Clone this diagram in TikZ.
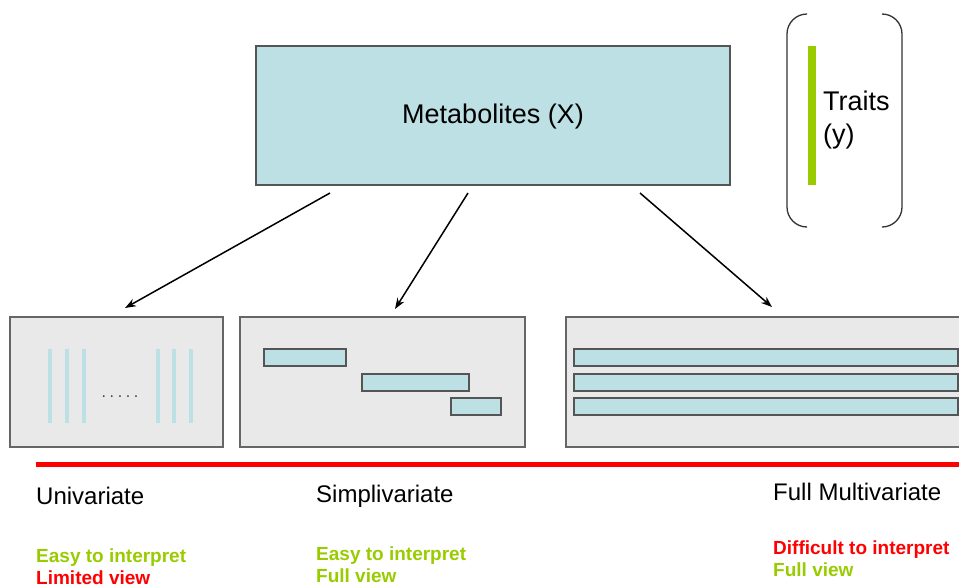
\documentclass[tikz,border=0pt]{standalone}
\usepackage{fontspec}
\setmainfont{Liberation Sans}
\usetikzlibrary{arrows.meta}
\definecolor{cy}{HTML}{BCE0E3}
\definecolor{bd}{HTML}{555555}
\definecolor{gbox}{HTML}{E9E9E9}
\definecolor{gr}{HTML}{99CC00}
\definecolor{rd}{HTML}{FF0000}
\tikzset{
  cybox/.style={draw=bd, fill=cy, line width=1.3pt},
  panel/.style={draw=bd!90, fill=gbox, line width=1.3pt},
  arr/.style={draw=black, line width=1.5pt, -{Stealth[length=11pt,width=8pt]}},
  vline/.style={draw=cy, line width=4pt},
  lbl/.style={inner sep=0pt, anchor=base west, font=\fontsize{24}{28}\selectfont},
  good/.style={inner sep=0pt, anchor=base west, text=gr, font=\fontsize{19}{22}\selectfont\bfseries},
  bad/.style={inner sep=0pt, anchor=base west, text=rd, font=\fontsize{19}{22}\selectfont\bfseries},
  paren/.style={draw=black!80, line width=1.3pt, rounded corners=20pt}
}
\begin{document}
\begin{tikzpicture}[x=1pt,y=-1pt]
\useasboundingbox (0,0) rectangle (959,584);
% top box
\draw[cybox] (256,46) rectangle (730,185);
\node[inner sep=0pt, font=\fontsize{27}{32}\selectfont] (met) at (493,117) {Metabolites (X)};
% traits bracket
\draw[paren] (806,14) -- (787,14) -- (787,227) -- (806,227);
\draw[paren] (882,14) -- (902,14) -- (902,227) -- (882,227);
\draw[draw=gr, line width=8pt] (812,46) -- (812,185);
\node[inner sep=0pt, anchor=base west, font=\fontsize{27}{33}\selectfont] (traits) at (823,110) {Traits};
\node[inner sep=0pt, anchor=base west, font=\fontsize{27}{33}\selectfont] (ty) at (823,143) {(y)};
% panels
\draw[panel] (10,317) rectangle (223,447);
\draw[panel] (240,317) rectangle (525,447);
\draw[panel] (566,317) rectangle (975,447);
\node[inner sep=0pt, minimum width=213pt, minimum height=130pt] (p1) at (116.5,382) {};
\node[inner sep=0pt, minimum width=285pt, minimum height=130pt] (p2) at (382.5,382) {};
\node[inner sep=0pt, minimum width=409pt, minimum height=130pt] (p3) at (770.5,382) {};
% univariate lines
\foreach \x in {50,67,83.5,157.5,174,190.5} \draw[vline] (\x,349) -- (\x,423);
\node[inner sep=0pt, anchor=base, text=black!75, font=\fontsize{16}{18}\selectfont] (dots) at (120,397) {.\hspace{3.6pt}.\hspace{3.6pt}.\hspace{3.6pt}.\hspace{3.6pt}.};
% simplivariate rects
\draw[cybox] (264,349) rectangle (346,366);
\draw[cybox] (362,374) rectangle (469,391);
\draw[cybox] (451,398) rectangle (501,415);
% multivariate rects
\draw[cybox] (574,349) rectangle (958,366);
\draw[cybox] (574,374) rectangle (958,391);
\draw[cybox] (574,398) rectangle (958,415);
% arrows
\coordinate (s1) at (330,193); \coordinate (e1) at (125,308);
\coordinate (s2) at (468,193); \coordinate (e2) at (395,309);
\coordinate (s3) at (640,193); \coordinate (e3) at (772,307);
\draw[arr] (s1) -- (e1);
\draw[arr] (s2) -- (e2);
\draw[arr] (s3) -- (e3);
% red line
\draw[draw=rd, line width=5pt] (36,464) -- (959,464);
% labels
\node[lbl] (u) at (36,504) {Univariate};
\node[lbl] (s) at (316,502) {Simplivariate};
\node[lbl] (f) at (773,500) {Full Multivariate};
\node[good] (u1) at (36,562) {Easy to interpret};
\node[bad] (u2) at (36,584) {Limited view};
\node[good] (s1t) at (316,560) {Easy to interpret};
\node[good] (s2t) at (316,582) {Full view};
\node[bad] (f1) at (773,554) {Difficult to interpret};
\node[good] (f2) at (773,576) {Full view};
\end{tikzpicture}
\end{document}
